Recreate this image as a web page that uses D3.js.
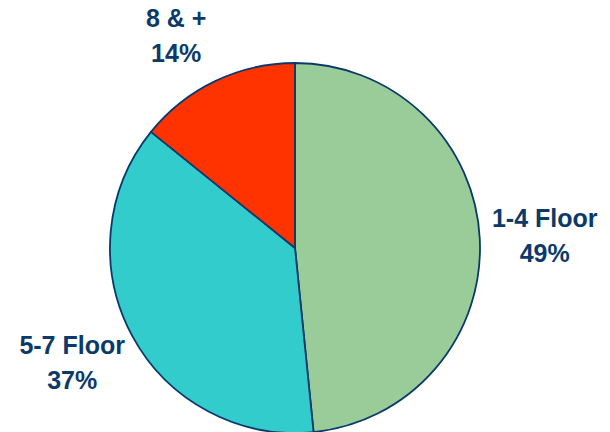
<!DOCTYPE html>
<html>
<head>
    <title>Floors</title>
    <script src="https://cdn.jsdelivr.net/npm/d3@7"></script>
    <style>
    body { margin: 0; background: #fff; }
    .lbl {
        font-family: "Liberation Sans", Arial, sans-serif;
        font-weight: bold;
        font-size: 25px;
        fill: #0b3a6a;
    }
    </style>
</head>
<body>
<div id="chart"></div>
<script>
    // share of buildings by number of floors
    var categories = ["1-4 Floor", "5-7 Floor", "8 & +"];
    var values = [48.4, 37.4, 14.2];
    var pctLabels = ["49%", "37%", "14%"];
    var colors = ["#99cc99", "#33cccc", "#ff3300"];

    var w = 610;
    var h = 432;
    var cx = 295, cy = 248;
    var r = 185;
    var labelNudge = [[0, 1], [-3, -4], [-11, 14]]; // small hand tweaks so labels sit like the original

    var svg = d3.select("#chart")
        .append("svg")
        .attr("width", w)
        .attr("height", h);

    var g = svg.append("g")
        .attr("transform", "translate(" + cx + "," + cy + ")");

    var pie = d3.pie().sort(null).value(function(d) { return d; });
    var arc = d3.arc().innerRadius(0).outerRadius(r);
    var labelArc = d3.arc().innerRadius(250).outerRadius(250);

    var slices = pie(values);

    g.selectAll("path")
        .data(slices)
        .enter()
        .append("path")
        .attr("d", arc)
        .attr("fill", function(d, i) { return colors[i]; })
        .attr("stroke", "#0b3a6a")
        .attr("stroke-width", 1.8)
        .attr("stroke-linejoin", "round");

    // two-line labels outside the pie
    var lbl = g.selectAll("text")
        .data(slices)
        .enter()
        .append("text")
        .attr("class", "lbl")
        .attr("text-anchor", "middle")
        .attr("transform", function(d, i) {
            var c = labelArc.centroid(d);
            return "translate(" + (c[0] + labelNudge[i][0]) + "," + (c[1] + labelNudge[i][1]) + ")";
        });

    lbl.append("tspan")
        .attr("x", 0)
        .attr("y", -9)
        .text(function(d, i) { return categories[i]; });

    lbl.append("tspan")
        .attr("x", 0)
        .attr("y", 26)
        .text(function(d, i) { return pctLabels[i]; });
</script>
</body>
</html>
